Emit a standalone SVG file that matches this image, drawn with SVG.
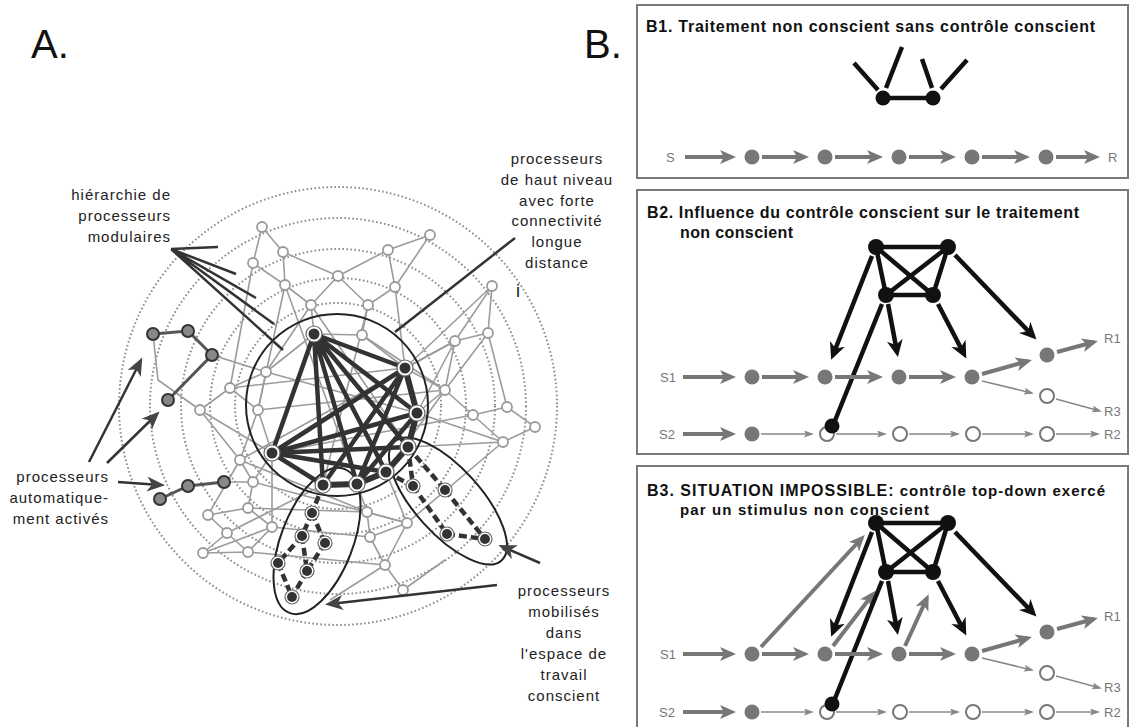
<svg xmlns="http://www.w3.org/2000/svg" width="1135" height="727" viewBox="0 0 1135 727">
<style>
.lbl{font-family:"Liberation Sans",Arial,sans-serif;font-size:15px;letter-spacing:1px;fill:#222}
.big{font-family:"Liberation Sans",Arial,sans-serif;font-size:40px;fill:#111}
.ttl{font-family:"Liberation Sans",Arial,sans-serif;font-weight:bold;font-size:16px;fill:#111}
.sm{font-family:"Liberation Sans",Arial,sans-serif;font-size:13px;fill:#777}
.dc{fill:none;stroke:#8c8c8c;stroke-width:2;stroke-dasharray:1.6 2.4}
.gl{stroke:#9c9c9c;stroke-width:1.6;fill:none}
.gn{fill:#fff;stroke:#9a9a9a;stroke-width:1.8}
.dk{stroke:#333;stroke-width:4.5;fill:none;stroke-linecap:round}
.dd{stroke:#333;stroke-width:4.5;fill:none;stroke-dasharray:8 4}
.wo{fill:#fff;stroke:#666;stroke-width:1.2}
.wi{fill:#333}
.ch{stroke:#555;stroke-width:3;fill:none}
.cn{fill:#888;stroke:#333;stroke-width:2}
.ptr{stroke:#333;stroke-width:2.5;fill:none}
.ell{fill:none;stroke:#222;stroke-width:2}
.box{fill:#fff;stroke:#7a7a7a;stroke-width:2}
.ga{stroke:#777;stroke-width:4;fill:none}
.gt{stroke:#888;stroke-width:1.5;fill:none}
.ka{stroke:#111;stroke-width:4.5;fill:none}
.kn{fill:#111}
.gnode{fill:#777}
.hn{fill:#fff;stroke:#777;stroke-width:2}
</style>
<defs>
<marker id="ahA" markerUnits="userSpaceOnUse" markerWidth="20" markerHeight="16" refX="13" refY="7.5" orient="auto"><path d="M0,0 L18,7.5 L0,15 L5,7.5 z" fill="#444"/></marker>
<marker id="ahG" markerUnits="userSpaceOnUse" markerWidth="18" markerHeight="15" refX="12" refY="7" orient="auto"><path d="M0,0 L16,7 L0,14 L4,7 z" fill="#777"/></marker>
<marker id="ahT" markerUnits="userSpaceOnUse" markerWidth="11" markerHeight="8" refX="8" refY="3.5" orient="auto"><path d="M0,0 L10,3.5 L0,7 L2,3.5 z" fill="#888"/></marker>
<marker id="ahK" markerUnits="userSpaceOnUse" markerWidth="19" markerHeight="17" refX="12" refY="8" orient="auto"><path d="M0,0 L17,8 L0,16 L5,8 z" fill="#111"/></marker>
</defs>
<rect width="1135" height="727" fill="#fff"/>

<!-- ================= PANEL A ================= -->
<text class="big" x="31" y="58">A.</text>

<g id="rings">
<circle class="dc" cx="338" cy="406" r="219"/>
<circle class="dc" cx="338" cy="406" r="188"/>
<circle class="dc" cx="338" cy="406" r="157"/>
<circle class="dc" cx="338" cy="406" r="128"/>
<circle class="dc" cx="338" cy="406" r="103"/>
</g>

<g id="gray-network">
<g class="gl">
<path d="M262,227L253,263M262,227L283,252M253,263L285,285M283,252L285,285M283,252L338,276M285,285L311,305M311,305L338,276M338,276L388,250M338,276L368,305M388,250L430,235M388,250L395,287M430,235L395,287M395,287L368,305M368,305L362,335M311,305L314,334M362,335L314,334M362,335L405,368M395,287L405,368"/>
<path d="M492,286L455,341M492,286L488,333M492,286L405,368M488,333L455,341M488,333L507,407M455,341L445,390M455,341L405,368M445,390L473,415M445,390L417,413M473,415L507,407M507,407L535,427M535,427L503,442M473,415L503,442M503,442L408,447M445,390L405,368"/>
<path d="M212,355L266,372M153,334L158,380L200,410M266,372L230,388M266,372L258,410M266,372L314,334M230,388L200,410M230,388L258,410M200,410L240,460M258,410L240,460M258,410L272,453M240,460L253,482M240,460L208,515M253,482L248,508M208,515L248,508M248,508L272,527M208,515L227,533M227,533L203,553M227,533L248,552M203,553L248,552M248,552L272,527M272,527L272,453M253,482L272,453M224,482L253,482"/>
<path d="M367,512L407,523M367,512L370,537M407,523L370,537M370,537L385,565M385,565L403,590M407,523L385,565M367,512L357,484M407,523L386,472M403,590L445,560M385,565L330,600"/>
<path d="M258,410L445,390M240,460L455,341M253,482L407,523M248,508L367,512M272,527L370,537M272,453L473,415M248,552L385,565M230,388L405,368M503,442L407,523M285,285L258,410M253,263L230,388M311,305L266,372M362,335L445,390M417,413L503,442"/>
<path d="M266,372L417,413M285,285L357,484M368,305L323,485M311,305L408,447M200,410L272,453M203,553L272,527M240,460L367,512M445,390L386,472M455,341L417,413M488,333L445,390M227,533L323,485"/>
</g>
<g class="gn">
<circle cx="262" cy="227" r="5"/><circle cx="253" cy="263" r="5"/><circle cx="283" cy="252" r="5"/><circle cx="285" cy="285" r="5"/><circle cx="311" cy="305" r="5"/><circle cx="338" cy="276" r="5"/><circle cx="388" cy="250" r="5"/><circle cx="430" cy="235" r="5"/><circle cx="395" cy="287" r="5"/><circle cx="368" cy="305" r="5"/><circle cx="362" cy="335" r="5"/>
<circle cx="492" cy="286" r="5"/><circle cx="488" cy="333" r="5"/><circle cx="455" cy="341" r="5"/><circle cx="445" cy="390" r="5"/><circle cx="473" cy="415" r="5"/><circle cx="507" cy="407" r="5"/><circle cx="535" cy="427" r="5"/><circle cx="503" cy="442" r="5"/>
<circle cx="266" cy="372" r="5"/><circle cx="230" cy="388" r="5"/><circle cx="200" cy="410" r="5"/><circle cx="258" cy="410" r="5"/><circle cx="240" cy="460" r="5"/><circle cx="253" cy="482" r="5"/><circle cx="208" cy="515" r="5"/><circle cx="248" cy="508" r="5"/><circle cx="227" cy="533" r="5"/><circle cx="203" cy="553" r="5"/><circle cx="248" cy="552" r="5"/><circle cx="272" cy="527" r="5"/>
<circle cx="367" cy="512" r="5"/><circle cx="407" cy="523" r="5"/><circle cx="370" cy="537" r="5"/><circle cx="385" cy="565" r="5"/><circle cx="403" cy="590" r="5"/>
</g>
</g>

<g id="workspace">
<circle class="ell" cx="337" cy="405" r="91"/>
<ellipse class="ell" cx="317" cy="541" rx="36" ry="77" transform="rotate(21 317 541)"/>
<ellipse class="ell" cx="448" cy="501" rx="33" ry="80" transform="rotate(-42 448 501)"/>
<g class="dk">
<path d="M314,334L405,368M314,334L272,453M314,334L323,485M314,334L357,484M314,334L386,472M314,334L408,447M314,334L417,413"/>
<path d="M272,453L405,368M272,453L417,413M272,453L408,447M272,453L386,472"/>
<path d="M405,368L323,485M405,368L357,484M417,413L357,484M272,453L323,485"/>
<path d="M405,368L417,413L408,447L386,472L357,484L323,485" stroke-width="6"/>
</g>
<g class="dd">
<path d="M323,485L312,513M312,513L302,536M312,513L325,543M302,536L278,563M302,536L307,571M325,543L307,571M278,563L292,597M307,571L292,597"/>
<path d="M408,447L413,486M408,447L445,490M413,486L447,534M445,490L485,539M447,534L485,539M386,472L413,486"/>
</g>
<g id="ws-nodes">
<circle class="wo" cx="314" cy="334" r="8"/><circle class="wi" cx="314" cy="334" r="5.5"/>
<circle class="wo" cx="405" cy="368" r="8"/><circle class="wi" cx="405" cy="368" r="5.5"/>
<circle class="wo" cx="417" cy="413" r="8"/><circle class="wi" cx="417" cy="413" r="5.5"/>
<circle class="wo" cx="408" cy="447" r="8"/><circle class="wi" cx="408" cy="447" r="5.5"/>
<circle class="wo" cx="386" cy="472" r="8"/><circle class="wi" cx="386" cy="472" r="5.5"/>
<circle class="wo" cx="357" cy="484" r="8"/><circle class="wi" cx="357" cy="484" r="5.5"/>
<circle class="wo" cx="323" cy="485" r="8"/><circle class="wi" cx="323" cy="485" r="5.5"/>
<circle class="wo" cx="272" cy="453" r="8"/><circle class="wi" cx="272" cy="453" r="5.5"/>
<circle class="wo" cx="312" cy="513" r="7"/><circle class="wi" cx="312" cy="513" r="5"/>
<circle class="wo" cx="302" cy="536" r="7"/><circle class="wi" cx="302" cy="536" r="5"/>
<circle class="wo" cx="325" cy="543" r="7"/><circle class="wi" cx="325" cy="543" r="5"/>
<circle class="wo" cx="278" cy="563" r="7"/><circle class="wi" cx="278" cy="563" r="5"/>
<circle class="wo" cx="307" cy="571" r="7"/><circle class="wi" cx="307" cy="571" r="5"/>
<circle class="wo" cx="292" cy="597" r="7"/><circle class="wi" cx="292" cy="597" r="5"/>
<circle class="wo" cx="413" cy="486" r="7"/><circle class="wi" cx="413" cy="486" r="5"/>
<circle class="wo" cx="445" cy="490" r="7"/><circle class="wi" cx="445" cy="490" r="5"/>
<circle class="wo" cx="447" cy="534" r="7"/><circle class="wi" cx="447" cy="534" r="5"/>
<circle class="wo" cx="485" cy="539" r="7"/><circle class="wi" cx="485" cy="539" r="5"/>
</g>
</g>

<g id="auto-chains">
<path class="ch" d="M153,334L188,331L212,355L168,400"/>
<path class="ch" d="M160,499L188,486L224,482"/>
<circle class="cn" cx="153" cy="334" r="6"/><circle class="cn" cx="188" cy="331" r="6"/><circle class="cn" cx="212" cy="355" r="6"/><circle class="cn" cx="168" cy="400" r="6"/>
<circle class="cn" cx="160" cy="499" r="6"/><circle class="cn" cx="188" cy="486" r="6"/><circle class="cn" cx="224" cy="482" r="6"/>
</g>

<g id="pointers-A">
<path class="ptr" d="M171,249L218,247M171,249L236,274M171,249L256,298M171,249L274,324M171,249L283,350"/>
<path class="ptr" d="M395,332L515,238" stroke-width="2.2"/>
<path class="ptr" d="M89,462L140,362" marker-end="url(#ahA)"/>
<path class="ptr" d="M107,463L156,415" marker-end="url(#ahA)"/>
<path class="ptr" d="M118,482L160,485" marker-end="url(#ahA)"/>
<path class="ptr" d="M540,563L503,547" marker-end="url(#ahA)"/>
<path class="ptr" d="M497,585L330,604" marker-end="url(#ahA)"/>
</g>

<g id="labels-A" class="lbl">
<text x="171" y="200" text-anchor="end">hiérarchie de</text>
<text x="171" y="221" text-anchor="end">processeurs</text>
<text x="171" y="242" text-anchor="end">modulaires</text>
<text x="557" y="164" text-anchor="middle">processeurs</text>
<text x="557" y="185" text-anchor="middle">de haut niveau</text>
<text x="557" y="206" text-anchor="middle">avec forte</text>
<text x="557" y="226" text-anchor="middle">connectivité</text>
<text x="557" y="247" text-anchor="middle">longue</text>
<text x="557" y="268" text-anchor="middle">distance</text>
<text x="516" y="297" style="font-size:18px">i</text>
<text x="109" y="482" text-anchor="end">processeurs</text>
<text x="109" y="503" text-anchor="end">automatique-</text>
<text x="109" y="524" text-anchor="end">ment activés</text>
<text x="564" y="596" text-anchor="middle">processeurs</text>
<text x="564" y="617" text-anchor="middle">mobilisés</text>
<text x="564" y="638" text-anchor="middle">dans</text>
<text x="564" y="659" text-anchor="middle">l'espace de</text>
<text x="564" y="680" text-anchor="middle">travail</text>
<text x="564" y="701" text-anchor="middle">conscient</text>
</g>

<!-- ================= PANEL B ================= -->
<text class="big" x="584" y="58">B.</text>

<g id="B1">
<rect class="box" x="637" y="5" width="491" height="173"/>
<text class="ttl" x="646" y="32" textLength="449" lengthAdjust="spacing">B1. Traitement non conscient sans contrôle conscient</text>
<g class="ka" stroke-width="5"><path d="M883,98L933,98M878,90L854,63M886,88L902,47M932,88L922,59M941,89L967,60"/></g>
<circle class="kn" cx="883" cy="98" r="7.5"/><circle class="kn" cx="933" cy="98" r="7.5"/>
<text class="sm" x="666" y="162">S</text>
<g class="ga" marker-end="url(#ahG)"><path d="M685,157L732,157"/><path d="M762,157L805,157"/><path d="M835,157L879,157"/><path d="M909,157L952,157"/><path d="M982,157L1026,157"/><path d="M1056,157L1096,157"/></g>
<g class="gnode"><circle cx="752" cy="157" r="7.5"/><circle cx="825" cy="157" r="7.5"/><circle cx="899" cy="157" r="7.5"/><circle cx="972" cy="157" r="7.5"/><circle cx="1046" cy="157" r="7.5"/></g>
<text class="sm" x="1108" y="162">R</text>
</g>

<g id="B2">
<rect class="box" x="637" y="190" width="491" height="264"/>
<text class="ttl" x="647" y="218" textLength="432" lengthAdjust="spacing">B2. Influence du contrôle conscient sur le traitement</text>
<text class="ttl" x="680" y="238" textLength="113" lengthAdjust="spacing">non conscient</text>
<g class="ka"><path d="M876,247L948,247M886,295L933,295M876,247L886,295M948,247L933,295M876,247L933,295M948,247L886,295"/></g>
<g class="ka" marker-end="url(#ahK)"><path d="M872,256L833,355"/><path d="M888,304L897,352"/><path d="M938,304L964,354"/><path d="M955,255L1033,336"/></g>
<path class="ka" d="M882,304L832,428"/>
<g class="kn"><circle cx="876" cy="247" r="8"/><circle cx="948" cy="247" r="8"/><circle cx="886" cy="295" r="8"/><circle cx="933" cy="295" r="8"/></g>
<text class="sm" x="660" y="382">S1</text>
<g class="ga" marker-end="url(#ahG)"><path d="M683,377L732,377"/><path d="M762,377L805,377"/><path d="M835,377L879,377"/><path d="M909,377L952,377"/><path d="M982,374L1028,361"/><path d="M1057,352L1094,342"/></g>
<g class="gt" marker-end="url(#ahT)"><path d="M982,381L1032,393"/><path d="M1056,399L1100,411"/></g>
<g class="gnode"><circle cx="752" cy="377" r="7.5"/><circle cx="825" cy="377" r="7.5"/><circle cx="899" cy="377" r="7.5"/><circle cx="972" cy="377" r="7.5"/><circle cx="1047" cy="355" r="7.5"/></g>
<circle class="hn" cx="1047" cy="396" r="7"/>
<text class="sm" x="1104" y="343">R1</text>
<text class="sm" x="1104" y="416">R3</text>
<text class="sm" x="659" y="439">S2</text>
<path class="ga" d="M683,434L732,434" marker-end="url(#ahG)"/>
<g class="gt" marker-end="url(#ahT)"><path d="M761,434L812,434"/><path d="M836,434L885,434"/><path d="M909,434L958,434"/><path d="M982,434L1032,434"/><path d="M1056,434L1098,434"/></g>
<circle class="gnode" cx="752" cy="434" r="7.5"/>
<g class="hn"><circle cx="827" cy="434" r="7"/><circle cx="900" cy="434" r="7"/><circle cx="973" cy="434" r="7"/><circle cx="1047" cy="434" r="7"/></g>
<circle class="kn" cx="832" cy="426" r="7.5"/>
<text class="sm" x="1104" y="439">R2</text>
</g>

<g id="B3">
<rect class="box" x="637" y="466" width="491" height="275"/>
<text class="ttl" x="647" y="496" textLength="458" lengthAdjust="spacing"><tspan>B3. SITUATION IMPOSSIBLE:</tspan><tspan style="font-size:15px"> contrôle top-down exercé</tspan></text>
<text class="ttl" x="680" y="515" textLength="249" lengthAdjust="spacing" style="font-size:15px">par un stimulus non conscient</text>
<g class="ka"><path d="M876,523L948,523M886,572L933,572M876,523L886,572M948,523L933,572M876,523L933,572M948,523L886,572"/></g>
<g class="ga" marker-end="url(#ahG)"><path d="M761,647L862,538"/><path d="M833,646L873,594"/><path d="M905,646L927,598"/></g>
<g class="ka" marker-end="url(#ahK)"><path d="M872,532L833,632"/><path d="M888,581L897,630"/><path d="M938,581L964,631"/><path d="M955,532L1033,613"/></g>
<path class="ka" d="M882,581L832,706"/>
<g class="kn"><circle cx="876" cy="523" r="8"/><circle cx="948" cy="523" r="8"/><circle cx="886" cy="572" r="8"/><circle cx="933" cy="572" r="8"/></g>
<text class="sm" x="660" y="659">S1</text>
<g class="ga" marker-end="url(#ahG)"><path d="M683,654L732,654"/><path d="M762,654L805,654"/><path d="M835,654L879,654"/><path d="M909,654L952,654"/><path d="M982,651L1028,638"/><path d="M1057,629L1094,619"/></g>
<g class="gt" marker-end="url(#ahT)"><path d="M982,658L1032,670"/><path d="M1056,676L1100,688"/></g>
<g class="gnode"><circle cx="752" cy="654" r="7.5"/><circle cx="825" cy="654" r="7.5"/><circle cx="899" cy="654" r="7.5"/><circle cx="972" cy="654" r="7.5"/><circle cx="1047" cy="632" r="7.5"/></g>
<circle class="hn" cx="1047" cy="673" r="7"/>
<text class="sm" x="1104" y="621">R1</text>
<text class="sm" x="1104" y="692">R3</text>
<text class="sm" x="659" y="717">S2</text>
<path class="ga" d="M683,712L732,712" marker-end="url(#ahG)"/>
<g class="gt" marker-end="url(#ahT)"><path d="M761,712L812,712"/><path d="M836,712L885,712"/><path d="M909,712L958,712"/><path d="M982,712L1032,712"/><path d="M1056,712L1098,712"/></g>
<circle class="gnode" cx="752" cy="712" r="7.5"/>
<g class="hn"><circle cx="827" cy="712" r="7"/><circle cx="900" cy="712" r="7"/><circle cx="973" cy="712" r="7"/><circle cx="1047" cy="712" r="7"/></g>
<circle class="kn" cx="832" cy="704" r="7.5"/>
<text class="sm" x="1104" y="717">R2</text>
</g>
</svg>
